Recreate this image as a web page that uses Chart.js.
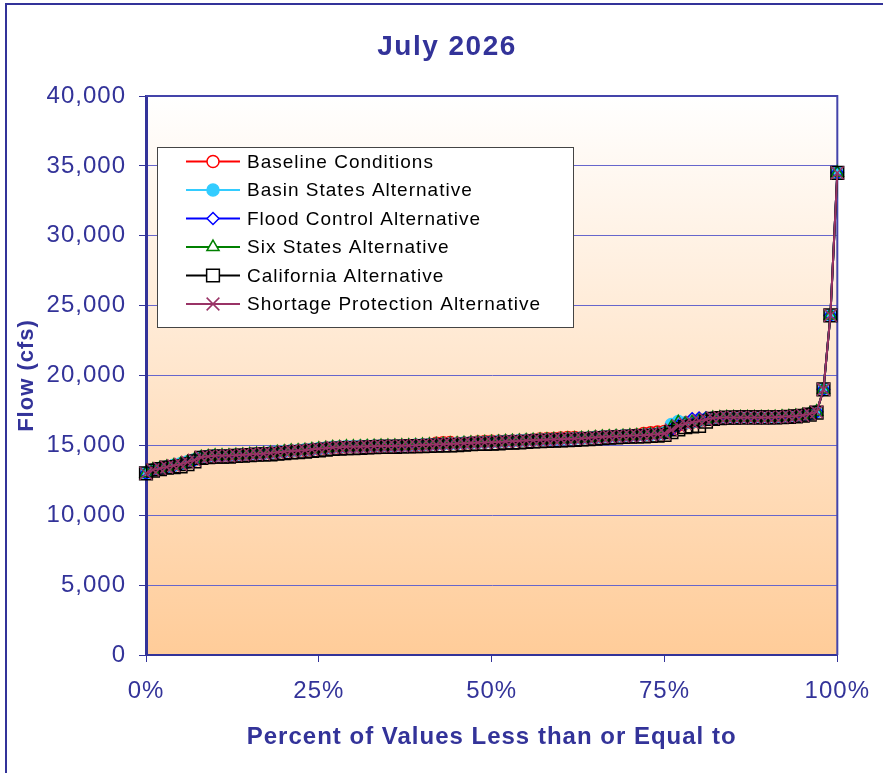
<!DOCTYPE html>
<html>
<head>
<meta charset="utf-8">
<title>July 2026</title>
<script src="https://cdn.jsdelivr.net/npm/chart.js@4.4.1/dist/chart.umd.min.js"></script>
<style>
    html, body { margin: 0; padding: 0; background: #fff; }
    canvas { display: block; }
</style>
</head>
<body>
<canvas id="flowChart" width="883" height="773"></canvas>
<script>
const seriesNames = [
    'Baseline Conditions',
    'Basin States Alternative',
    'Flood Control Alternative',
    'Six States Alternative',
    'California Alternative',
    'Shortage Protection Alternative'
];

const baseline = [
    13000, 13250, 13350, 13450, 13550, 13650, 13800, 13950, 14150, 14200,
    14250, 14250, 14250, 14300, 14320, 14350, 14380, 14400, 14450, 14500,
    14550, 14600, 14620, 14650, 14700, 14750, 14800, 14850, 14850, 14900,
    14900, 14900, 14920, 14930, 14950, 14950, 14960, 14970, 14980, 15000,
    15020, 15060, 15150, 15180, 15200, 15150, 15150, 15200, 15250, 15280,
    15300, 15300, 15300, 15320, 15340, 15360, 15400, 15450, 15480, 15500,
    15520, 15560, 15560, 15540, 15540, 15580, 15620, 15640, 15660, 15680,
    15700, 15750, 15850, 15900, 15950, 16000, 16200, 16450, 16580, 16650,
    16750, 16850, 16950, 16980, 17000, 17000, 17000, 17000, 17000, 17000,
    17000, 17020, 17040, 17060, 17100, 17150, 17250, 17400, 19000, 24300,
    34500
];

const basinStates = [
    13000, 13260, 13370, 13470, 13570, 13680, 13820, 13970, 14170, 14230,
    14270, 14270, 14280, 14320, 14340, 14370, 14400, 14420, 14470, 14520,
    14570, 14620, 14640, 14680, 14720, 14770, 14820, 14870, 14880, 14920,
    14920, 14930, 14940, 14950, 14970, 14980, 14980, 14990, 15000, 15020,
    15040, 15060, 15080, 15100, 15120, 15140, 15170, 15190, 15210, 15230,
    15240, 15270, 15300, 15320, 15340, 15360, 15380, 15400, 15420, 15440,
    15460, 15480, 15500, 15520, 15540, 15580, 15620, 15640, 15660, 15680,
    15700, 15720, 15740, 15780, 15820, 15900, 16500, 16700, 16600, 16680,
    16780, 16870, 16960, 16990, 17000, 17000, 17000, 17000, 17000, 17000,
    17000, 17020, 17040, 17060, 17100, 17150, 17250, 17400, 19000, 24300,
    34500
];

const floodControl = [
    13000, 13250, 13350, 13450, 13550, 13650, 13800, 13950, 14150, 14200,
    14250, 14250, 14260, 14300, 14320, 14350, 14380, 14400, 14450, 14500,
    14550, 14600, 14620, 14650, 14700, 14750, 14800, 14850, 14860, 14900,
    14900, 14910, 14920, 14930, 14950, 14950, 14960, 14970, 14980, 15000,
    15020, 15040, 15060, 15080, 15100, 15120, 15150, 15170, 15190, 15200,
    15220, 15250, 15280, 15300, 15320, 15340, 15360, 15380, 15400, 15420,
    15440, 15460, 15480, 15500, 15520, 15560, 15600, 15620, 15640, 15660,
    15680, 15700, 15720, 15760, 15800, 15850, 16100, 16400, 16600, 16900,
    16950, 16980, 16980, 16990, 17000, 17000, 17000, 17000, 17000, 17000,
    17000, 17020, 17040, 17060, 17100, 17150, 17250, 17400, 19000, 24300,
    34500
];

const sixStates = [
    13000, 13250, 13350, 13450, 13550, 13650, 13800, 13950, 14150, 14200,
    14250, 14250, 14250, 14300, 14320, 14350, 14380, 14400, 14450, 14500,
    14550, 14600, 14620, 14650, 14700, 14750, 14800, 14850, 14850, 14900,
    14900, 14900, 14920, 14930, 14950, 14950, 14960, 14970, 14980, 15000,
    15020, 15040, 15060, 15080, 15100, 15120, 15150, 15170, 15190, 15200,
    15220, 15250, 15280, 15300, 15320, 15340, 15360, 15380, 15400, 15420,
    15440, 15460, 15480, 15500, 15520, 15560, 15600, 15620, 15640, 15660,
    15680, 15700, 15720, 15760, 15800, 15850, 16300, 16650, 16550, 16650,
    16750, 16850, 16950, 16980, 17000, 17000, 17000, 17000, 17000, 17000,
    17000, 17020, 17040, 17060, 17100, 17150, 17250, 17400, 19000, 24300,
    34500
];

const california = [
    13000, 13200, 13300, 13400, 13450, 13500, 13650, 13850, 14100, 14150,
    14200, 14200, 14200, 14250, 14270, 14300, 14330, 14350, 14350, 14400,
    14450, 14500, 14520, 14550, 14600, 14650, 14700, 14750, 14760, 14800,
    14800, 14820, 14850, 14870, 14900, 14900, 14900, 14920, 14930, 14950,
    14950, 14960, 14980, 15000, 15000, 15020, 15050, 15080, 15100, 15100,
    15120, 15150, 15200, 15200, 15220, 15250, 15280, 15300, 15320, 15340,
    15350, 15380, 15400, 15420, 15450, 15480, 15520, 15550, 15580, 15600,
    15620, 15640, 15650, 15680, 15700, 15750, 15950, 16150, 16300, 16350,
    16400, 16700, 16900, 16950, 16980, 16990, 17000, 17000, 17000, 17000,
    17000, 17000, 17020, 17040, 17080, 17120, 17200, 17350, 19000, 24300,
    34500
];

const shortageProtection = [
    13000, 13250, 13350, 13450, 13550, 13650, 13800, 13950, 14150, 14200,
    14250, 14250, 14250, 14300, 14320, 14350, 14380, 14400, 14450, 14500,
    14550, 14600, 14620, 14650, 14700, 14750, 14800, 14850, 14850, 14900,
    14900, 14900, 14920, 14930, 14950, 14950, 14960, 14970, 14980, 15000,
    15020, 15040, 15060, 15080, 15100, 15120, 15150, 15170, 15190, 15200,
    15220, 15250, 15280, 15300, 15320, 15340, 15360, 15380, 15400, 15420,
    15440, 15460, 15480, 15500, 15520, 15560, 15600, 15620, 15640, 15660,
    15680, 15700, 15720, 15760, 15800, 15850, 16100, 16400, 16550, 16650,
    16750, 16850, 16950, 16980, 17000, 17000, 17000, 17000, 17000, 17000,
    17000, 17020, 17040, 17060, 17100, 17150, 17250, 17400, 19000, 24300,
    34500
];

const yTicks = [0, 5000, 10000, 15000, 20000, 25000, 30000, 35000, 40000];
const xTicks = [0, 25, 50, 75, 100];

const allSeries = [baseline, basinStates, floodControl, sixStates, california, shortageProtection];

const navy = '#333399';
const fontFamily = '"Liberation Sans", Arial, Helvetica, sans-serif';

const markerStyles = [
    { color: '#FF0000', pointStyle: 'circle',   radius: 6, fill: 'rgba(0,0,0,0)' },
    { color: '#33CCFF', pointStyle: 'circle',   radius: 6, fill: '#33CCFF' },
    { color: '#0000FF', pointStyle: 'rectRot',  radius: 6, fill: 'rgba(0,0,0,0)' },
    { color: '#008000', pointStyle: 'triangle', radius: 7, fill: 'rgba(0,0,0,0)' },
    { color: '#000000', pointStyle: 'rect',     radius: 9, fill: 'rgba(0,0,0,0)' },
    { color: '#993366', pointStyle: 'crossRot', radius: 9, fill: 'rgba(0,0,0,0)' }
];

// percent rank of each sorted value, 0% .. 100%
const toPoints = values => values.map((v, i) => ({ x: i * 100 / (values.length - 1), y: v }));

const datasets = allSeries.map((values, i) => ({
    label: seriesNames[i],
    data: toPoints(values),
    borderColor: markerStyles[i].color,
    borderWidth: 2,
    pointStyle: markerStyles[i].pointStyle,
    pointRadius: markerStyles[i].radius,
    pointBorderColor: markerStyles[i].color,
    pointBackgroundColor: markerStyles[i].fill,
    pointBorderWidth: 1.5,
    order: allSeries.length - 1 - i,   // last series drawn on top
    clip: false
}));

// background, outer frame, title, plot border and the boxed legend
const decorations = {
    id: 'decorations',
    beforeDraw(chart) {
        const { ctx, chartArea: a } = chart;
        ctx.save();
        ctx.fillStyle = '#FFFFFF';
        ctx.fillRect(0, 0, chart.width, chart.height);

        const grad = ctx.createLinearGradient(0, a.top, 0, a.bottom);
        grad.addColorStop(0, '#FFFFFF');
        grad.addColorStop(1, '#FFCC99');
        ctx.fillStyle = grad;
        ctx.fillRect(a.left, a.top, a.right - a.left, a.bottom - a.top);

        ctx.strokeStyle = navy;
        ctx.lineWidth = 2;
        ctx.beginPath();
        ctx.moveTo(6, chart.height);
        ctx.lineTo(6, 4);
        ctx.lineTo(chart.width, 4);
        ctx.stroke();

        ctx.fillStyle = navy;
        ctx.font = 'bold 28px ' + fontFamily;
        ctx.letterSpacing = '1.5px';
        ctx.textAlign = 'center';
        ctx.textBaseline = 'middle';
        ctx.fillText('July 2026', 447, 47);
        ctx.restore();
        ctx.letterSpacing = '1px';
    },
    beforeDatasetsDraw(chart) {
        const { ctx, chartArea: a } = chart;
        ctx.save();
        ctx.strokeStyle = '#4444AA';
        ctx.lineWidth = 2;
        ctx.beginPath();
        ctx.moveTo(a.left, a.top);
        ctx.lineTo(a.right, a.top);
        ctx.lineTo(a.right, a.bottom);
        ctx.stroke();
        ctx.restore();
    },
    afterDatasetsDraw(chart) {
        const { ctx } = chart;
        ctx.save();
        ctx.fillStyle = '#FFFFFF';
        ctx.fillRect(157, 147, 416, 180);
        ctx.strokeStyle = '#444444';
        ctx.lineWidth = 1;
        ctx.strokeRect(157.5, 147.5, 416, 180);

        seriesNames.forEach((name, i) => {
            const y = 161.5 + i * 28.5;
            const m = markerStyles[i];
            ctx.strokeStyle = m.color;
            ctx.lineWidth = 2;
            ctx.beginPath();
            ctx.moveTo(186, y);
            ctx.lineTo(240, y);
            ctx.stroke();

            ctx.fillStyle = m.fill === 'rgba(0,0,0,0)' ? '#FFFFFF' : m.fill;
            ctx.lineWidth = 1.5;
            Chart.helpers.drawPoint(ctx, {
                pointStyle: m.pointStyle,
                radius: m.radius,
                rotation: 0,
                borderWidth: 1.5
            }, 213, y);

            ctx.fillStyle = '#000000';
            ctx.font = '19px ' + fontFamily;
            ctx.letterSpacing = '1px';
            ctx.textAlign = 'left';
            ctx.textBaseline = 'middle';
            ctx.fillText(name, 247, y + 1);
        });
        ctx.restore();
    }
};

const ctx = document.getElementById('flowChart').getContext('2d');
new Chart(ctx, {
    type: 'line',
    data: { datasets },
    options: {
        responsive: false,
        animation: false,
        layout: {
            padding: { left: 0, right: 43, top: 96, bottom: 0 }
        },
        plugins: {
            legend: { display: false },
            tooltip: { enabled: false },
            title: { display: false }
        },
        scales: {
            x: {
                type: 'linear',
                min: 0,
                max: 100,
                afterFit: scale => { scale.height = 118; },
                afterBuildTicks: scale => { scale.ticks = xTicks.map(v => ({ value: v })); },
                border: { color: navy, width: 2 },
                grid: {
                    drawOnChartArea: false,
                    drawTicks: true,
                    tickLength: 7,
                    tickColor: navy
                },
                ticks: {
                    color: navy,
                    padding: 15,
                    maxRotation: 0,
                    font: { family: fontFamily, size: 24 },
                    callback: value => value + '%'
                },
                title: {
                    display: true,
                    text: 'Percent of Values Less than or Equal to',
                    color: navy,
                    font: { family: fontFamily, size: 24, weight: 'bold' },
                    padding: { top: 0, bottom: 21 }
                }
            },
            y: {
                min: 0,
                max: 40000,
                afterFit: scale => { scale.width = 146; },
                afterBuildTicks: scale => { scale.ticks = yTicks.map(v => ({ value: v })); },
                border: { color: navy, width: 3 },
                grid: {
                    color: '#6666CC',
                    lineWidth: 1,
                    drawTicks: true,
                    tickLength: 7,
                    tickColor: navy
                },
                ticks: {
                    color: navy,
                    padding: 13,
                    font: { family: fontFamily, size: 24 },
                    callback: value => value.toLocaleString('en-US')
                },
                title: {
                    display: true,
                    text: 'Flow (cfs)',
                    color: navy,
                    font: { family: fontFamily, size: 22, weight: 'bold' },
                    padding: { top: 14, bottom: 0 }
                }
            }
        }
    },
    plugins: [decorations]
});
</script>
</body>
</html>
